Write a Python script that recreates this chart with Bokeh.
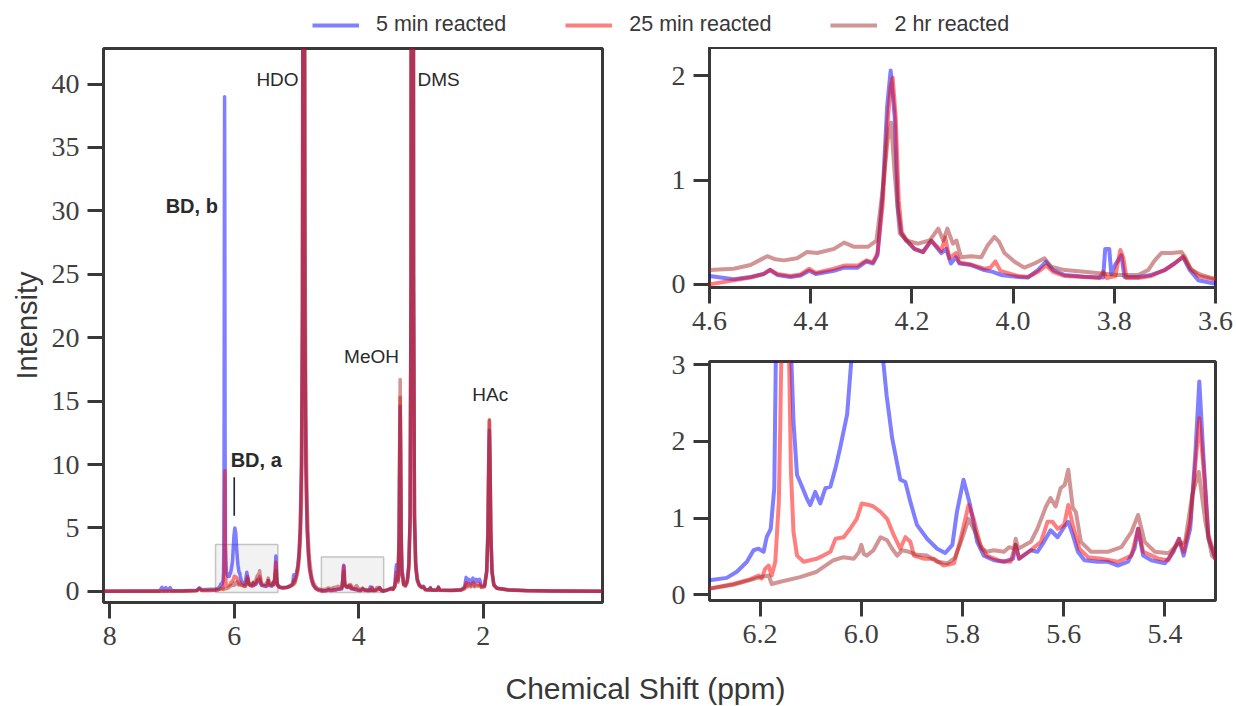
from bokeh.plotting import figure
from bokeh.models import Range1d, FixedTicker, PrintfTickFormatter, Legend, LegendItem, Label
from bokeh.layouts import column, row
from bokeh.embed import file_html
from bokeh.resources import INLINE

# ---------------- data: (ppm, intensity) ----------------
spec_5min = [
    (8.10, 0.0), (7.60, 0.02), (7.20, 0.03), (7.16, 0.32), (7.13, 0.05), (7.10, 0.30), (7.07, 0.05),
    (7.03, 0.30), (7.00, 0.04), (6.80, 0.04), (6.60, 0.08), (6.56, 0.28), (6.52, 0.12), (6.45, 0.14),
    (6.38, 0.16), (6.30, 0.19),
    (6.266, 0.22), (6.246, 0.30), (6.226, 0.43), (6.213, 0.58), (6.203, 0.60), (6.193, 0.56),
    (6.187, 0.75), (6.179, 0.86), (6.172, 1.39), (6.168, 3.6), (6.163, 12.0), (6.158, 32.0),
    (6.155, 39.0), (6.152, 32.0), (6.147, 12.0), (6.141, 3.6), (6.134, 2.26), (6.127, 1.56),
    (6.121, 1.47), (6.108, 1.26), (6.101, 1.17), (6.091, 1.34), (6.081, 1.19), (6.071, 1.39),
    (6.061, 1.41), (6.051, 1.65), (6.042, 1.91), (6.028, 2.35), (6.018, 3.2), (6.005, 4.4),
    (5.990, 5.0), (5.975, 4.6), (5.962, 3.4), (5.950, 2.6), (5.939, 2.04), (5.923, 1.50),
    (5.913, 1.47), (5.903, 1.21), (5.890, 0.91), (5.870, 0.73), (5.850, 0.60), (5.834, 0.545),
    (5.820, 0.65), (5.811, 1.08), (5.798, 1.50), (5.785, 1.17), (5.771, 0.69), (5.758, 0.51),
    (5.738, 0.45), (5.718, 0.43), (5.700, 0.47), (5.695, 0.65), (5.688, 0.47), (5.665, 0.58),
    (5.652, 0.56), (5.639, 0.69), (5.626, 0.84), (5.612, 0.75), (5.599, 0.885), (5.591, 0.95),
    (5.582, 0.78), (5.572, 0.56), (5.559, 0.45), (5.533, 0.43), (5.513, 0.43), (5.493, 0.38),
    (5.473, 0.43), (5.460, 0.60), (5.453, 0.86), (5.443, 0.51), (5.427, 0.45), (5.400, 0.41),
    (5.383, 0.56), (5.372, 0.73), (5.363, 0.51), (5.350, 0.86), (5.340, 1.82), (5.332, 2.78),
    (5.324, 1.82), (5.314, 0.73), (5.300, 0.47),
    (5.27, 0.32), (5.22, 0.28), (5.15, 0.33), (5.10, 0.45), (5.06, 0.60), (5.045, 1.30), (5.03, 0.85),
    (5.00, 1.5), (4.98, 2.0), (4.96, 3.0), (4.94, 5.0), (4.92, 10.0), (4.905, 22.0), (4.895, 60.0),
    (4.885, 200.0), (4.875, 60.0), (4.865, 22.0), (4.85, 10.0), (4.83, 5.0), (4.81, 3.0), (4.79, 1.8),
    (4.76, 1.0), (4.73, 0.5), (4.69, 0.22), (4.65, 0.12),
    (4.600, 0.08), (4.552, 0.05), (4.519, 0.07), (4.493, 0.10), (4.480, 0.137), (4.466, 0.09),
    (4.440, 0.07), (4.420, 0.085), (4.403, 0.13), (4.390, 0.10), (4.354, 0.13), (4.334, 0.16),
    (4.307, 0.16), (4.290, 0.22), (4.277, 0.20), (4.268, 0.28), (4.258, 0.85), (4.249, 1.70),
    (4.242, 2.05), (4.234, 1.60), (4.228, 0.74), (4.221, 0.49), (4.211, 0.42), (4.195, 0.34),
    (4.178, 0.31), (4.162, 0.42), (4.152, 0.36), (4.142, 0.30), (4.132, 0.34), (4.123, 0.20),
    (4.113, 0.26), (4.106, 0.20), (4.083, 0.185), (4.057, 0.137), (4.040, 0.12), (4.024, 0.09),
    (3.990, 0.07), (3.971, 0.065), (3.951, 0.137), (3.935, 0.217), (3.921, 0.137), (3.898, 0.09),
    (3.859, 0.073), (3.822, 0.067), (3.818, 0.34), (3.810, 0.34), (3.806, 0.10), (3.798, 0.19),
    (3.786, 0.28), (3.780, 0.07), (3.753, 0.07), (3.727, 0.09), (3.700, 0.137), (3.681, 0.20),
    (3.664, 0.26), (3.651, 0.137), (3.634, 0.04), (3.605, 0.01),
    (3.57, 0.05), (3.52, 0.15), (3.48, 0.25), (3.45, 0.18), (3.42, 0.5), (3.405, 1.6), (3.395, 2.1),
    (3.385, 1.2), (3.37, 0.9), (3.352, 4.0), (3.343, 10.0), (3.335, 14.6), (3.327, 10.0), (3.318, 4.0),
    (3.305, 1.3), (3.295, 1.4), (3.28, 0.6), (3.25, 0.5), (3.22, 0.9), (3.195, 2.2), (3.175, 6.0),
    (3.16, 25.0), (3.148, 150.0), (3.14, 200.0), (3.132, 150.0), (3.12, 25.0), (3.105, 6.0),
    (3.085, 2.2), (3.06, 1.0), (3.03, 0.55), (2.99, 0.35), (2.96, 0.4), (2.93, 0.15), (2.87, 0.12),
    (2.85, 0.3), (2.83, 0.1), (2.74, 0.1), (2.72, 0.35), (2.70, 0.1), (2.50, 0.08), (2.36, 0.12),
    (2.30, 0.35), (2.275, 1.1), (2.25, 0.7), (2.23, 0.95), (2.20, 0.65), (2.165, 1.05), (2.14, 0.7),
    (2.11, 0.95), (2.08, 0.8), (2.06, 0.95), (2.03, 0.45), (1.98, 0.45), (1.945, 1.5), (1.925, 4.5),
    (1.912, 10.0), (1.902, 12.7), (1.892, 10.0), (1.879, 4.5), (1.86, 1.5), (1.83, 0.5), (1.78, 0.25),
    (1.60, 0.12), (1.30, 0.06), (0.90, 0.03), (0.085, 0.0),
]

spec_25min = [
    (8.10, 0.0), (7.20, 0.01), (6.80, 0.02), (6.60, 0.05), (6.56, 0.22), (6.52, 0.06), (6.40, 0.06),
    (6.30, 0.08),
    (6.253, 0.14), (6.220, 0.20), (6.203, 0.25), (6.197, 0.21), (6.190, 0.34), (6.183, 0.38),
    (6.177, 0.25), (6.170, 0.43), (6.163, 1.2), (6.160, 2.26), (6.157, 3.6), (6.153, 8.0),
    (6.150, 9.5), (6.147, 8.0), (6.144, 3.6), (6.139, 1.6), (6.134, 0.82), (6.127, 0.51),
    (6.114, 0.43), (6.101, 0.45), (6.088, 0.47), (6.075, 0.51), (6.061, 0.56), (6.051, 0.73),
    (6.035, 0.75), (6.022, 0.86), (6.009, 0.99), (5.999, 1.19), (5.985, 1.17), (5.976, 1.15),
    (5.962, 1.08), (5.949, 0.99), (5.936, 0.78), (5.923, 0.60), (5.913, 0.75), (5.903, 0.69),
    (5.896, 0.51), (5.877, 0.47), (5.857, 0.47), (5.837, 0.38), (5.817, 0.41), (5.805, 0.69),
    (5.788, 1.17), (5.778, 0.99), (5.765, 0.65), (5.752, 0.51), (5.725, 0.44), (5.705, 0.43),
    (5.695, 0.65), (5.688, 0.47), (5.665, 0.58), (5.645, 0.69), (5.632, 0.95), (5.622, 0.95),
    (5.612, 0.86), (5.599, 0.91), (5.591, 1.17), (5.582, 0.91), (5.569, 0.60), (5.552, 0.49),
    (5.526, 0.47), (5.493, 0.43), (5.466, 0.51), (5.453, 0.86), (5.443, 0.56), (5.413, 0.47),
    (5.393, 0.45), (5.372, 0.73), (5.363, 0.56), (5.350, 0.95), (5.341, 1.6), (5.332, 2.30),
    (5.323, 1.6), (5.314, 0.78), (5.300, 0.47),
    (5.27, 0.30), (5.22, 0.25), (5.15, 0.30), (5.10, 0.40), (5.06, 0.5), (5.045, 0.9), (5.03, 0.7),
    (5.00, 1.3), (4.98, 1.8), (4.96, 2.8), (4.94, 4.8), (4.92, 10.0), (4.905, 22.0), (4.895, 60.0),
    (4.885, 200.0), (4.875, 60.0), (4.865, 22.0), (4.85, 10.0), (4.83, 5.0), (4.81, 3.0), (4.79, 1.7),
    (4.76, 0.9), (4.73, 0.45), (4.69, 0.2), (4.65, 0.08),
    (4.600, 0.0), (4.552, 0.04), (4.519, 0.065), (4.493, 0.10), (4.480, 0.14), (4.466, 0.10),
    (4.440, 0.08), (4.420, 0.095), (4.403, 0.15), (4.390, 0.11), (4.354, 0.15), (4.334, 0.18),
    (4.307, 0.18), (4.290, 0.23), (4.277, 0.21), (4.268, 0.30), (4.258, 0.75), (4.249, 1.50),
    (4.242, 1.90), (4.238, 1.98), (4.232, 1.60), (4.226, 0.80), (4.220, 0.50), (4.211, 0.43),
    (4.195, 0.34), (4.178, 0.31), (4.162, 0.42), (4.152, 0.37), (4.142, 0.32), (4.134, 0.45),
    (4.126, 0.25), (4.113, 0.30), (4.106, 0.21), (4.083, 0.19), (4.057, 0.15), (4.045, 0.16),
    (4.035, 0.22), (4.025, 0.13), (3.990, 0.08), (3.971, 0.07), (3.951, 0.12), (3.935, 0.18),
    (3.921, 0.12), (3.898, 0.08), (3.859, 0.07), (3.830, 0.06), (3.822, 0.12), (3.815, 0.06),
    (3.798, 0.08), (3.788, 0.33), (3.782, 0.25), (3.776, 0.06), (3.753, 0.06), (3.727, 0.08),
    (3.700, 0.14), (3.681, 0.20), (3.664, 0.27), (3.651, 0.16), (3.634, 0.08), (3.605, 0.05),
    (3.57, 0.06), (3.52, 0.14), (3.48, 0.22), (3.45, 0.16), (3.42, 0.4), (3.405, 1.2), (3.395, 1.5),
    (3.385, 0.9), (3.37, 0.8), (3.352, 4.2), (3.343, 11.0), (3.335, 15.3), (3.327, 11.0), (3.318, 4.2),
    (3.305, 1.2), (3.295, 1.3), (3.28, 0.55), (3.25, 0.45), (3.22, 0.8), (3.195, 2.0), (3.175, 6.0),
    (3.16, 25.0), (3.148, 150.0), (3.14, 200.0), (3.132, 150.0), (3.12, 25.0), (3.105, 6.0),
    (3.085, 2.0), (3.06, 0.9), (3.03, 0.5), (2.99, 0.3), (2.96, 0.35), (2.93, 0.12), (2.87, 0.1),
    (2.85, 0.25), (2.83, 0.08), (2.74, 0.08), (2.72, 0.3), (2.70, 0.08), (2.50, 0.06), (2.36, 0.1),
    (2.30, 0.25), (2.275, 0.7), (2.25, 0.45), (2.23, 0.6), (2.20, 0.45), (2.165, 0.7), (2.14, 0.45),
    (2.11, 0.6), (2.08, 0.5), (2.06, 0.6), (2.03, 0.35), (1.98, 0.4), (1.945, 1.6), (1.925, 4.8),
    (1.912, 10.5), (1.902, 13.5), (1.892, 10.5), (1.879, 4.8), (1.86, 1.6), (1.83, 0.5), (1.78, 0.25),
    (1.60, 0.1), (1.30, 0.05), (0.90, 0.02), (0.085, 0.0),
]

spec_2hr = [
    (8.10, 0.0), (7.20, 0.01), (6.80, 0.02), (6.60, 0.05), (6.56, 0.2), (6.52, 0.06), (6.40, 0.06),
    (6.30, 0.08),
    (6.253, 0.13), (6.220, 0.19), (6.200, 0.23), (6.183, 0.25), (6.177, 0.14), (6.160, 0.17),
    (6.121, 0.23), (6.088, 0.30), (6.055, 0.45), (6.035, 0.49), (6.015, 0.47), (6.005, 0.55),
    (6.000, 0.65), (5.995, 0.53), (5.989, 0.51), (5.976, 0.58), (5.962, 0.75), (5.949, 0.71),
    (5.939, 0.60), (5.929, 0.51), (5.919, 0.58), (5.906, 0.56), (5.890, 0.52), (5.870, 0.51),
    (5.850, 0.43), (5.830, 0.41), (5.815, 0.48), (5.803, 0.69), (5.788, 0.99), (5.775, 0.82),
    (5.762, 0.60), (5.752, 0.56), (5.738, 0.58), (5.718, 0.56), (5.708, 0.62), (5.698, 0.60),
    (5.695, 0.73), (5.690, 0.60), (5.665, 0.69), (5.652, 0.86), (5.635, 1.15), (5.626, 1.26),
    (5.616, 1.15), (5.606, 1.39), (5.598, 1.43), (5.591, 1.63), (5.582, 1.13), (5.576, 1.08),
    (5.566, 0.69), (5.546, 0.56), (5.513, 0.56), (5.486, 0.62), (5.466, 0.82), (5.453, 1.04),
    (5.440, 0.69), (5.420, 0.56), (5.393, 0.54), (5.376, 0.65), (5.360, 0.69), (5.346, 1.30),
    (5.333, 1.60), (5.320, 0.95), (5.307, 0.51), (5.300, 0.47),
    (5.27, 0.35), (5.22, 0.3), (5.15, 0.32), (5.10, 0.4), (5.06, 0.5), (5.045, 0.8), (5.03, 0.6),
    (5.00, 1.1), (4.98, 1.5), (4.96, 2.3), (4.94, 3.8), (4.92, 7.0), (4.905, 16.0), (4.895, 45.0),
    (4.885, 200.0), (4.875, 70.0), (4.865, 30.0), (4.85, 14.0), (4.83, 7.0), (4.81, 4.0), (4.79, 2.5),
    (4.76, 1.3), (4.73, 0.7), (4.69, 0.35), (4.65, 0.2),
    (4.600, 0.137), (4.552, 0.15), (4.519, 0.185), (4.486, 0.27), (4.470, 0.24), (4.453, 0.23),
    (4.427, 0.25), (4.407, 0.31), (4.387, 0.30), (4.354, 0.34), (4.334, 0.40), (4.314, 0.36),
    (4.287, 0.36), (4.270, 0.42), (4.258, 0.90), (4.248, 1.38), (4.241, 1.55), (4.234, 1.06),
    (4.224, 0.49), (4.211, 0.42), (4.188, 0.39), (4.165, 0.42), (4.148, 0.535), (4.138, 0.42),
    (4.130, 0.535), (4.119, 0.39), (4.112, 0.42), (4.103, 0.26), (4.083, 0.27), (4.063, 0.26),
    (4.050, 0.376), (4.037, 0.455), (4.028, 0.41), (4.017, 0.30), (3.997, 0.217), (3.978, 0.16),
    (3.958, 0.20), (3.938, 0.25), (3.925, 0.17), (3.898, 0.137), (3.859, 0.12), (3.826, 0.105),
    (3.793, 0.09), (3.753, 0.09), (3.733, 0.137), (3.720, 0.23), (3.707, 0.30), (3.687, 0.30),
    (3.667, 0.31), (3.660, 0.26), (3.648, 0.14), (3.628, 0.09), (3.605, 0.057),
    (3.57, 0.08), (3.52, 0.15), (3.48, 0.22), (3.45, 0.16), (3.42, 0.35), (3.405, 0.8), (3.395, 1.0),
    (3.385, 0.7), (3.37, 0.7), (3.352, 4.5), (3.343, 12.0), (3.335, 16.7), (3.327, 12.0), (3.318, 4.5),
    (3.305, 1.1), (3.295, 1.1), (3.28, 0.5), (3.25, 0.4), (3.22, 0.7), (3.195, 1.8), (3.175, 5.5),
    (3.16, 25.0), (3.148, 150.0), (3.14, 200.0), (3.132, 150.0), (3.12, 25.0), (3.105, 5.5),
    (3.085, 1.8), (3.06, 0.8), (3.03, 0.45), (2.99, 0.3), (2.96, 0.3), (2.93, 0.12), (2.87, 0.1),
    (2.85, 0.22), (2.83, 0.08), (2.74, 0.08), (2.72, 0.28), (2.70, 0.08), (2.50, 0.06), (2.36, 0.1),
    (2.30, 0.2), (2.275, 0.5), (2.25, 0.35), (2.23, 0.45), (2.20, 0.35), (2.165, 0.5), (2.14, 0.35),
    (2.11, 0.45), (2.08, 0.4), (2.06, 0.45), (2.03, 0.3), (1.98, 0.35), (1.945, 1.6), (1.925, 4.8),
    (1.912, 10.5), (1.902, 13.5), (1.892, 10.5), (1.879, 4.8), (1.86, 1.6), (1.83, 0.5), (1.78, 0.25),
    (1.60, 0.1), (1.30, 0.05), (0.90, 0.02), (0.085, 0.0),
]

series_labels = ["5 min reacted", "25 min reacted", "2 hr reacted"]
series_colors = ["blue", "red", "#a52a2a"]
series_data = [spec_5min, spec_25min, spec_2hr]

# axis limits / ticks
main_xlim = (8.10, 0.085)
main_ylim = (-0.88, 42.8)
main_xticks = [8, 6, 4, 2]
main_yticks = [0, 5, 10, 15, 20, 25, 30, 35, 40]
top_xlim = (4.6, 3.6)
top_ylim = (-0.03, 2.27)
top_xticks = [4.6, 4.4, 4.2, 4.0, 3.8, 3.6]
top_yticks = [0, 1, 2]
bot_xlim = (6.3, 5.3)
bot_ylim = (-0.075, 3.04)
bot_xticks = [6.2, 6.0, 5.8, 5.6, 5.4]
bot_yticks = [0, 1, 2, 3]

# zoom boxes drawn on the main panel (ppm left, ppm right, bottom, top)
zoom_boxes = [(6.3, 5.3, -0.1, 3.7), (4.6, 3.6, -0.1, 2.7)]

# annotations: (text, ppm, intensity, align, bold)
annotations = [
    ("HDO", 4.966, 40.36, "right", False),
    ("DMS", 3.056, 40.36, "left", False),
    ("BD, b", 6.263, 30.4, "right", True),
    ("MeOH", 3.795, 18.48, "center", False),
    ("HAc", 1.889, 15.52, "center", False),
    ("BD, a", 6.058, 10.39, "left", True),
]
bd_a_marker = (6.0, 5.96, 9.0)

DARK = "#383838"
TICKFONT = "Liberation Serif"
SANS = "Liberation Sans"


def style(p, xticks, yticks, xfmt):
    p.outline_line_color = DARK
    p.outline_line_width = 3
    p.xgrid.visible = False
    p.ygrid.visible = False
    p.xaxis.ticker = FixedTicker(ticks=xticks)
    p.yaxis.ticker = FixedTicker(ticks=yticks)
    p.xaxis.formatter = PrintfTickFormatter(format=xfmt)
    p.yaxis.formatter = PrintfTickFormatter(format="%d")
    for ax in (p.xaxis[0], p.yaxis[0]):
        ax.axis_line_color = None
        ax.major_tick_line_color = DARK
        ax.major_tick_line_width = 3
        ax.major_tick_out = 16
        ax.major_tick_in = 0
        ax.minor_tick_line_color = None
        ax.major_label_text_font = TICKFONT
        ax.major_label_text_font_size = "28px"
        ax.major_label_text_color = "#404040"
    p.xaxis.major_label_standoff = 8
    p.yaxis.major_label_standoff = 8


def add_lines(p, lw):
    for data, col in zip(series_data, series_colors):
        xs = [a for a, _ in data]
        ys = [b for _, b in data]
        p.line(xs, ys, line_color=col, line_alpha=0.5, line_width=lw, line_join="round")


common = dict(toolbar_location=None, output_backend="svg", title=None, min_border=0)

# ---------------- legend strip ----------------
leg = figure(frame_width=1228, frame_height=47, x_range=Range1d(0, 1), y_range=Range1d(0, 1),
             x_axis_type=None, y_axis_type=None, **common)
leg.outline_line_color = None
leg.xgrid.visible = False
leg.ygrid.visible = False
items = []
for lab_txt, col in zip(series_labels, series_colors):
    r = leg.line([-5, -4], [-5, -5], line_color=col, line_alpha=0.5, line_width=4)
    items.append(LegendItem(label=lab_txt, renderers=[r]))
legend = Legend(items=items, orientation="horizontal", location=(312, 10),
                glyph_width=47, glyph_height=24, label_standoff=17, spacing=59,
                padding=0, margin=0, border_line_color=None, background_fill_alpha=0,
                label_text_font=SANS, label_text_font_size="21.5px", label_text_color=DARK)
leg.add_layout(legend, "center")

# ---------------- main panel ----------------
pm = figure(frame_width=499, frame_height=554, x_range=Range1d(*main_xlim), y_range=Range1d(*main_ylim),
            **common)
pm.min_border_left = 103
pm.min_border_right = 29
pm.min_border_top = 1
pm.min_border_bottom = 58
style(pm, main_xticks, main_yticks, "%d")
pm.yaxis.axis_label = "Intensity"
pm.yaxis.axis_label_text_font = SANS
pm.yaxis.axis_label_text_font_size = "29px"
pm.yaxis.axis_label_text_font_style = "normal"
pm.yaxis.axis_label_text_color = DARK
pm.yaxis.axis_label_standoff = 6

pm.quad(left=[b[0] for b in zoom_boxes], right=[b[1] for b in zoom_boxes],
        bottom=[b[2] for b in zoom_boxes], top=[b[3] for b in zoom_boxes],
        fill_color="#d9d9d9", fill_alpha=0.35, line_color="#c4c4c4", line_width=1.5)
add_lines(pm, 3.5)
for txt, x, y, al, bold in annotations:
    pm.add_layout(Label(x=x, y=y, text=txt, text_align=al, text_baseline="middle",
                        text_font=SANS, text_font_size="20px" if bold else "19px",
                        text_font_style="bold" if bold else "normal", text_color="#2a2a2a"))
pm.segment(x0=[bd_a_marker[0]], y0=[bd_a_marker[1]], x1=[bd_a_marker[0]], y1=[bd_a_marker[2]],
           line_color="#222222", line_width=1.6)

# ---------------- top-right inset ----------------
pt = figure(frame_width=506, frame_height=240, x_range=Range1d(*top_xlim), y_range=Range1d(*top_ylim),
            **common)
pt.min_border_left = 78
pt.min_border_right = 20
pt.min_border_top = 0
pt.min_border_bottom = 60
style(pt, top_xticks, top_yticks, "%.1f")
add_lines(pt, 4)

# ---------------- bottom-right inset ----------------
pb = figure(frame_width=506, frame_height=239, x_range=Range1d(*bot_xlim), y_range=Range1d(*bot_ylim),
            **common)
pb.min_border_left = 78
pb.min_border_right = 20
pb.min_border_top = 14
pb.min_border_bottom = 60
style(pb, bot_xticks, bot_yticks, "%.1f")
add_lines(pb, 4)

# ---------------- shared x label ----------------
lab = figure(frame_width=1228, frame_height=46, x_range=Range1d(0, 1228), y_range=Range1d(0, 46),
             x_axis_type=None, y_axis_type=None, **common)
lab.outline_line_color = None
lab.xgrid.visible = False
lab.ygrid.visible = False
lab.add_layout(Label(x=645, y=18, text="Chemical Shift (ppm)", text_align="center", text_baseline="middle",
                     text_font=SANS, text_font_size="30px", text_color=DARK))

layout = column(leg, row(pm, column(pt, pb)), lab)
open("out.html", "w").write(file_html(layout, INLINE))
